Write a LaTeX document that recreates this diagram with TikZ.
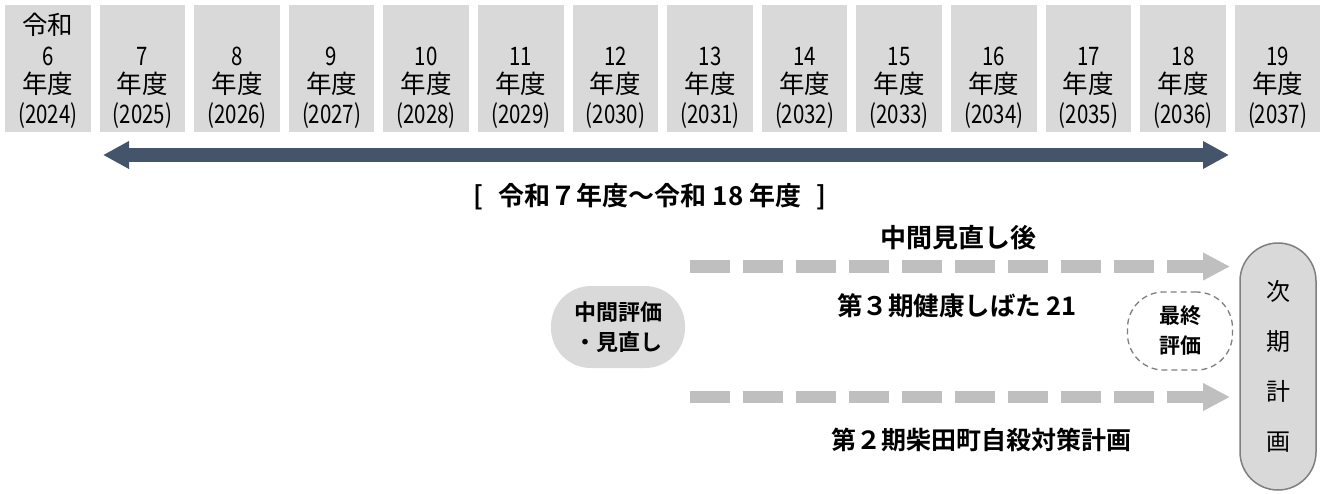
\documentclass[tikz,border=0pt]{standalone}
\usepackage{fontspec}
\setmainfont{Noto Sans CJK JP}[BoldFont={* Bold}]
\newfontfamily\digf{Noto Sans CJK JP}[FakeStretch=0.8]
\usetikzlibrary{arrows.meta}
\definecolor{hgray}{HTML}{D9D9D9}
\definecolor{navy}{HTML}{44546A}
\definecolor{dgray}{HTML}{BFBFBF}
\definecolor{edge}{HTML}{7F7F7F}
\tikzset{
  hbox/.style={rectangle, fill=hgray, draw=none, minimum width=85.5pt, minimum height=127pt, inner sep=0pt},
  htext/.style={anchor=base, inner sep=0pt, font=\fontsize{25.5}{30}\selectfont},
  lbl/.style={inner sep=0pt, font=\fontsize{26}{30}\selectfont\bfseries},
  bigarrow/.style={draw=navy, line width=14pt, {Triangle[length=26pt,width=26pt]}-{Triangle[length=26pt,width=26pt]}},
  dasharrow/.style={draw=dgray, line width=12.5pt, dash pattern=on 40pt off 13pt, -{Triangle[length=27pt,width=26pt]}},
}
\begin{document}
\begin{tikzpicture}[x=1pt,y=-1pt]
\useasboundingbox (0,0) rectangle (1322,493);
% header columns
\foreach \i in {0,...,13} {
  \pgfmathsetmacro\cx{47.8+94.6*\i}
  \pgfmathtruncatemacro\n{6+\i}
  \pgfmathtruncatemacro\yr{2024+\i}
  \node[hbox] (h\i) at (\cx,68.5) {};
  \node[htext] (hn\i) at (\cx,65) {\digf\n};
  \node[htext] (hy\i) at (\cx,93) {年度};
  \node[htext] (hz\i) at (\cx,123) {\digf(\yr)};
}
\node[htext] (era) at (47.8,34) {令和};
% main arrow
\coordinate (aL) at (103,155);
\coordinate (aR) at (1229,155);
\draw[bigarrow] (aL) -- (aR);
\node[lbl] (period) at (650,197) {[\hspace{0.6em}令和７年度～令和 18 年度\hspace{0.6em}]};
% labels
\node[lbl] (mid) at (958,238) {中間見直し後};
\coordinate (d1s) at (690,266.5);
\coordinate (d1e) at (1230,266.5);
\draw[dasharrow] (d1s) -- (d1e);
\node[lbl, font=\fontsize{25.5}{30}\selectfont\bfseries] (plan3) at (957,306) {第３期健康しばた 21};
\coordinate (d2s) at (690,397);
\coordinate (d2e) at (1230,397);
\draw[dasharrow] (d2s) -- (d2e);
\node[lbl, font=\fontsize{25}{30}\selectfont\bfseries] (plan2) at (981,440) {第２期柴田町自殺対策計画};
% bubble
\node[lbl, fill=hgray, rounded corners=40pt, minimum width=134pt, minimum height=82pt, align=center, font=\fontsize{22}{30}\selectfont\bfseries] (mideval) at (618,327) {中間評価\\・見直し};
% final evaluation
\node[lbl, draw=edge, line width=1.3pt, dash pattern=on 6pt off 4pt, rounded corners=36pt, minimum width=105pt, minimum height=78pt, align=center, font=\fontsize{21}{30}\selectfont\bfseries] (final) at (1180,331) {最終\\評価};
% next plan
\node[inner sep=0pt, fill=hgray, draw=edge, line width=1.5pt, rounded corners=38pt, minimum width=76pt, minimum height=247pt, align=center, font=\fontsize{24}{50}\selectfont] (next) at (1278,366.5) {次\\期\\計\\画};
\end{tikzpicture}
\end{document}
